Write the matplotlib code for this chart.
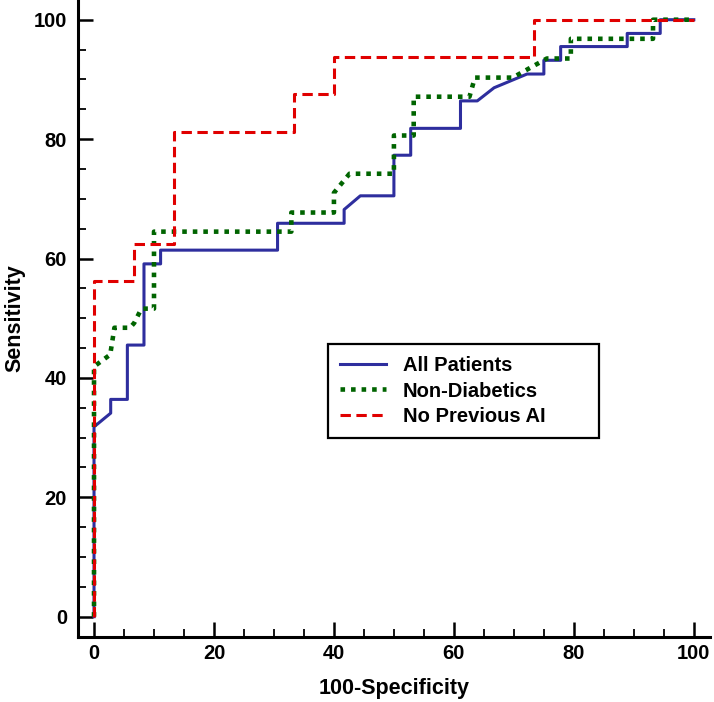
import matplotlib
matplotlib.use("Agg")
import matplotlib.pyplot as plt
from matplotlib.ticker import MultipleLocator

# ROC step curves (x = 100-Specificity, y = Sensitivity)
all_x = [0, 0, 2.78, 2.78, 5.56, 5.56, 8.33, 8.33, 11.1, 11.1, 30.6, 30.6, 41.7, 41.7,
         44.4, 50, 50, 52.8, 52.8, 61.1, 61.1, 63.9, 66.7, 72.2, 75, 75, 77.8, 77.8,
         88.9, 88.9, 94.4, 94.4, 100]
all_y = [0, 31.8, 34.1, 36.4, 36.4, 45.5, 45.5, 59.1, 59.1, 61.4, 61.4, 65.9, 65.9, 68.2,
         70.5, 70.5, 77.3, 77.3, 81.8, 81.8, 86.4, 86.4, 88.6, 90.9, 90.9, 93.2, 93.2, 95.5,
         95.5, 97.7, 97.7, 100, 100]

nondiab_x = [0, 0, 2.7, 3.4, 6.0, 6.7, 7.9, 10, 10, 32.9, 32.9, 40, 40, 42.6, 50, 50,
             53.3, 53.3, 62.6, 63.5, 69.8, 75.5, 79.5, 79.5, 93.2, 93.2, 100]
nondiab_y = [0, 41.9, 43.9, 48.4, 48.4, 49.2, 51.6, 51.6, 64.5, 64.5, 67.7, 67.7, 71.0,
             74.2, 74.2, 80.6, 80.6, 87.1, 87.1, 90.3, 90.3, 93.5, 93.5, 96.8, 96.8, 100, 100]

noprev_x = [0, 0, 6.67, 6.67, 13.3, 13.3, 33.3, 33.3, 40, 40, 73.3, 73.3, 100]
noprev_y = [0, 56.25, 56.25, 62.5, 62.5, 81.25, 81.25, 87.5, 87.5, 93.75, 93.75, 100, 100]

plt.rcParams['font.family'] = ['Liberation Sans', 'DejaVu Sans']
plt.rcParams['font.weight'] = 'bold'

fig = plt.figure(figsize=(7.14, 7.02), dpi=100)
ax = fig.add_axes([78 / 714, 65 / 702, 632 / 714, 637 / 702])

ax.plot(all_x, all_y, color='#2E2E9E', lw=2.2, label='All Patients')
ax.plot(nondiab_x, nondiab_y, color='#006400', lw=3.3, linestyle=(0, (1, 1.3)),
        dash_capstyle='butt', label='Non-Diabetics')
ax.plot(noprev_x, noprev_y, color='#E00000', lw=2.2, linestyle=(0, (3.4, 1.8)),
        label='No Previous AI')

ax.set_xlim(-2.67, 102.7)
ax.set_ylim(-3.4, 103.3)

for side in ['top', 'right']:
    ax.spines[side].set_visible(False)
for side in ['left', 'bottom']:
    ax.spines[side].set_linewidth(2.2)

ax.xaxis.set_major_locator(MultipleLocator(20))
ax.xaxis.set_minor_locator(MultipleLocator(5))
ax.yaxis.set_major_locator(MultipleLocator(20))
ax.yaxis.set_minor_locator(MultipleLocator(5))
ax.tick_params(which='major', direction='in', length=11, width=1.8, labelsize=14.5)
ax.tick_params(which='minor', direction='in', length=6, width=1.3)
ax.tick_params(axis='x', which='major', pad=5)
ax.tick_params(axis='y', which='major', pad=8)

ax.set_xlabel('100-Specificity', fontsize=15.5, fontweight='bold', labelpad=11)
ax.set_ylabel('Sensitivity', fontsize=15.5, fontweight='bold', labelpad=6)

leg = ax.legend(loc='upper left', bbox_to_anchor=(0.3956, 0.314, 0.4288, 0.146),
                mode='expand', fontsize=14.5, fancybox=False, edgecolor='black',
                framealpha=1, handlelength=2.3, handletextpad=0.8, borderpad=0.6,
                borderaxespad=0, labelspacing=0.32)
leg.get_frame().set_linewidth(1.6)

plt.savefig('out.png', dpi=100)
plt.close()
